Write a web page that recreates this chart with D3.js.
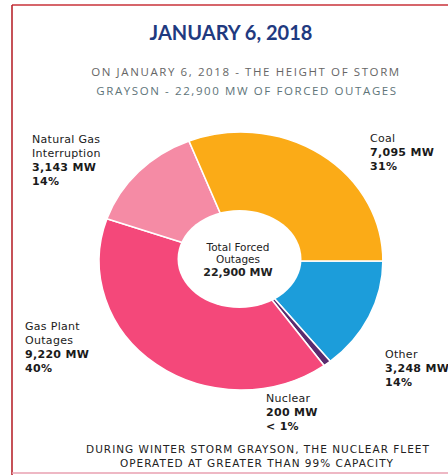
<!DOCTYPE html>
<html><head><meta charset="utf-8">
<script src="https://cdn.jsdelivr.net/npm/d3@7"></script>
<style>
html,body{margin:0;padding:0;background:#fff;overflow:hidden}
svg{display:block}
</style></head>
<body>
<svg id="chart" width="448" height="475"></svg>
<script>
// ---- data ----
const categories = ["Other", "Nuclear", "Gas Plant Outages", "Natural Gas Interruption", "Coal"];
const nameLines = [["Other"], ["Nuclear"], ["Gas Plant", "Outages"], ["Natural Gas", "Interruption"], ["Coal"]];
const values = [3248, 200, 9220, 3143, 7095];
const valueLabels = ["3,248 MW", "200 MW", "9,220 MW", "3,143 MW", "7,095 MW"];
const percentLabels = ["14%", "< 1%", "40%", "14%", "31%"];
const colors = ["#1C9DDA", "#5A2B6E", "#F4487A", "#F58BA5", "#FBAB17"];
const totalLabel = "22,900 MW";

// ---- layout ----
const svg = d3.select("#chart");
const W = 448, H = 475;

// frame
svg.append("line").attr("x1", 12).attr("x2", W).attr("y1", 5).attr("y2", 5)
  .attr("stroke", "#C8323A").attr("stroke-width", 1.6);
svg.append("line").attr("x1", 12).attr("x2", 12).attr("y1", 5).attr("y2", H)
  .attr("stroke", "#B8262E").attr("stroke-width", 1.6);
svg.append("line").attr("x1", 12).attr("x2", W).attr("y1", 473).attr("y2", 473)
  .attr("stroke", "#E8A0B0").attr("stroke-width", 1.4);

// title
svg.append("text").attr("x", 231).attr("y", 40).attr("text-anchor", "middle")
  .attr("font-family", "Lato, 'Open Sans', sans-serif").attr("font-weight", 700)
  .attr("font-size", 20).attr("fill", "#1F3A80").text("JANUARY 6, 2018");

const sub = svg.append("g").attr("font-family", "'Open Sans', sans-serif")
  .attr("font-size", 11.5).attr("letter-spacing", 1.6).attr("fill", "#666").attr("text-anchor", "middle");
sub.append("text").attr("x", 246).attr("y", 76).text("ON JANUARY 6, 2018 - THE HEIGHT OF  STORM");
sub.append("text").attr("x", 247).attr("y", 95).attr("fill", "#5E7479").text("GRAYSON - 22,900 MW OF FORCED OUTAGES");

// donut
const cx = 241, cy = 261, R = 129, sx = 1.1;
const pie = d3.pie().sort(null).value(d => d).startAngle(Math.PI / 2).endAngle(Math.PI / 2 + 2 * Math.PI);
const arcs = pie(values);
const arc = d3.arc().innerRadius(0).outerRadius(R);

const g = svg.append("g").attr("transform", `translate(${cx},${cy}) scale(${sx},1)`);
g.selectAll("path").data(arcs).join("path")
  .attr("d", arc)
  .attr("fill", (d, i) => colors[i])
  .attr("stroke", "#fff").attr("stroke-width", 1.6)
  .attr("vector-effect", "non-scaling-stroke");

// hole
svg.append("ellipse").attr("cx", 239.5).attr("cy", 259).attr("rx", 62).attr("ry", 49).attr("fill", "#fff");

// center text
const ct = svg.append("g").attr("font-family", "'DejaVu Sans', sans-serif").attr("fill", "#222")
  .attr("text-anchor", "middle").attr("font-size", 10.5);
ct.append("text").attr("x", 238).attr("y", 251).text("Total Forced");
ct.append("text").attr("x", 238).attr("y", 263).text("Outages");
ct.append("text").attr("x", 238).attr("y", 276).attr("font-weight", 700).attr("font-size", 11).text(totalLabel);

// labels
const labelPos = [
  {x: 385, y: 358},   // Other
  {x: 266, y: 402},   // Nuclear
  {x: 25, y: 330},    // Gas Plant
  {x: 32, y: 143},    // Natural Gas
  {x: 370, y: 142}    // Coal
];
const lh = 14;
categories.forEach((c, i) => {
  const t = svg.append("g").attr("font-family", "'DejaVu Sans', sans-serif").attr("font-size", 11)
    .attr("letter-spacing", 0.3).attr("fill", "#1a1a1a");
  const p = labelPos[i];
  const lines = nameLines[i];
  lines.forEach((ln, j) => {
    t.append("text").attr("x", p.x).attr("y", p.y + j * lh).text(ln);
  });
  t.append("text").attr("x", p.x).attr("y", p.y + lines.length * lh).attr("font-weight", 700).text(valueLabels[i]);
  t.append("text").attr("x", p.x).attr("y", p.y + (lines.length + 1) * lh).attr("font-weight", 700).text(percentLabels[i]);
});

// footnote
const fn = svg.append("g").attr("font-family", "'DejaVu Sans', sans-serif").attr("font-size", 10.5)
  .attr("letter-spacing", 1).attr("fill", "#222").attr("text-anchor", "middle");
fn.append("text").attr("x", 258).attr("y", 453).text("DURING WINTER STORM GRAYSON, THE NUCLEAR FLEET");
fn.append("text").attr("x", 257).attr("y", 467).text("OPERATED AT GREATER THAN 99% CAPACITY");
</script>
</body></html>
